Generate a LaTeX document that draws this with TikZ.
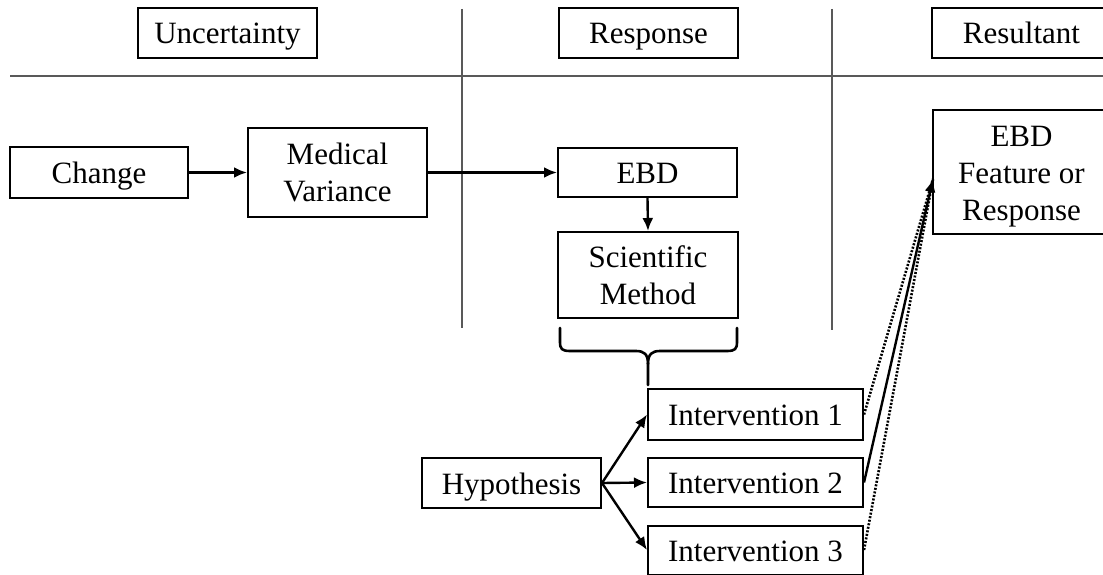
\documentclass[tikz,border=0pt]{standalone}
\usepackage{fontspec}
\setmainfont{Liberation Serif}
\usetikzlibrary{arrows.meta}
\begin{document}
\begin{tikzpicture}[x=1pt,y=-1pt,
  box/.style={draw=black, line width=2pt, inner sep=0pt, align=center,
    minimum width=179pt, minimum height=50pt,
    font=\fontsize{31}{37}\selectfont},
  oneline/.style={text height=26pt, text depth=4pt},
  sep/.style={draw=black!65, line width=1.3pt},
  link/.style={line width=2.4pt, -{Latex[length=13pt,width=11pt]}},
  dotlink/.style={line width=2.6pt, dash pattern=on 2pt off 1.6pt},
  brace/.style={line width=2.6pt, line cap=round}]
\useasboundingbox (0,0) rectangle (1103,575);
\clip (0,0) rectangle (1103,575);

% column separators
\draw[sep] (10,76) -- (1110,76);
\draw[sep] (462,9) -- (462,328);
\draw[sep] (832,9) -- (832,330);

% column headings
\node[box, oneline] (hUnc)  at (227.5,33) {Uncertainty};
\node[box, oneline] (hResp) at (648.5,33) {Response};
\node[box, oneline] (hRes)  at (1021.5,33) {Resultant};

% main chain
\node[box, oneline, minimum width=178pt, minimum height=51pt] (change) at (99,172.5) {Change};
\node[box, minimum height=89pt] (medical) at (337.5,172.5) {Medical\\Variance};
\node[box, oneline, minimum height=49pt] (ebd) at (647.5,172.5) {EBD};
\node[box, minimum width=180pt, minimum height=86pt] (sci) at (648,275) {Scientific\\Method};
\node[box, minimum width=177pt, minimum height=124pt] (feat) at (1021.5,172)
  {\rule{0pt}{29pt}EBD\\Feature or\\Response};

% hypothesis and interventions
\node[box, oneline] (hyp) at (511.5,483) {Hypothesis};
\node[box, oneline, minimum width=215pt, minimum height=51pt] (int1) at (755.5,414.5) {Intervention 1};
\node[box, oneline, minimum width=215pt, minimum height=49pt] (int2) at (755.5,482.5) {Intervention 2};
\node[box, oneline, minimum width=215pt, minimum height=49pt] (int3) at (755.5,550) {Intervention 3};

\coordinate (tip) at (933,179);

% connectors
\draw[link] (change.east) -- (medical.west);
\draw[link] (medical.east) -- (ebd.west);
\draw[link] (ebd.south) -- (sci.north);
\draw[link] (hyp.east) -- (int1.west);
\draw[link] (hyp.east) -- (int2.west);
\draw[link] (hyp.east) -- (int3.west);
\draw[dotlink] (int1.east) -- (tip);
\draw[dotlink] (int3.east) -- (tip);
\draw[link] (int2.east) -- (tip);

% brace under the scientific method
\draw[brace] (560,328) -- (560,342) .. controls (560,349) and (562,351) .. (570,351)
  -- (636,351) .. controls (644,351) and (648,354) .. (648,364) -- (648,385);
\draw[brace] (737,328) -- (737,342) .. controls (737,349) and (735,351) .. (727,351)
  -- (660,351) .. controls (652,351) and (648,354) .. (648,364);
\end{tikzpicture}
\end{document}
